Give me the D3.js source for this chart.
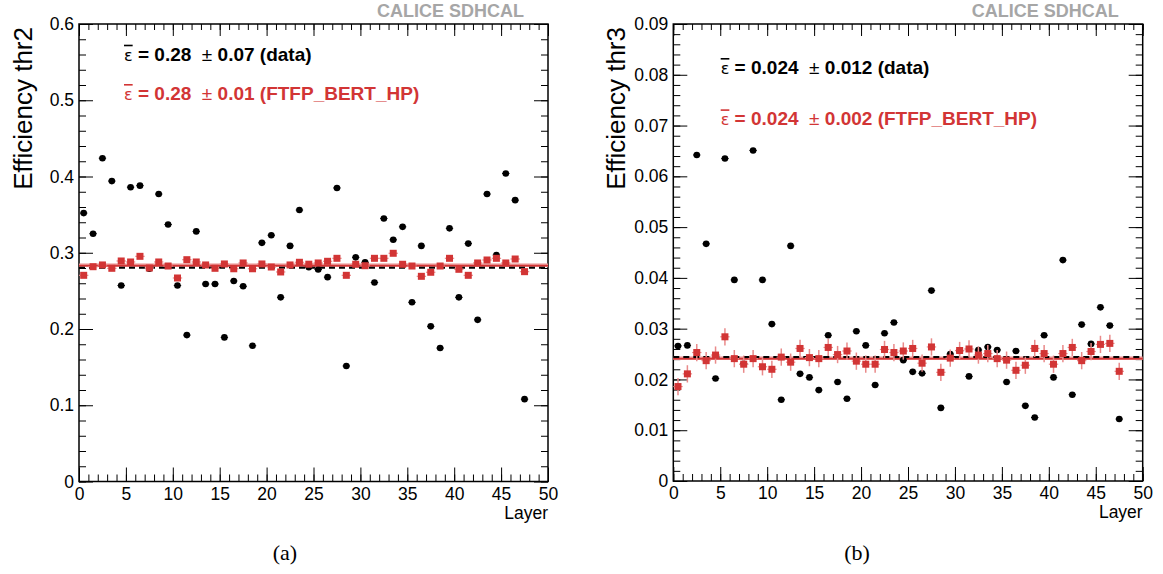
<!DOCTYPE html>
<html>
<head>
<meta charset="utf-8">
<script src="https://cdn.jsdelivr.net/npm/d3@7"></script>
<style>
  body { margin: 0; background: #fff; }
  svg text { font-family: "Liberation Sans", Arial, Helvetica, sans-serif; }
</style>
</head>
<body>
<svg id="chart" width="1163" height="574"></svg>
<script>
// layer index (bin low edge); points sit at the bin centre
const layers = [0,1,2,3,4,5,6,7,8,9,10,11,12,13,14,15,16,17,18,19,20,21,22,23,
  24,25,26,27,28,29,30,31,32,33,34,35,36,37,38,39,40,41,42,43,44,45,46,47];
const xTicks = [0,5,10,15,20,25,30,35,40,45,50];

// (a) threshold 2
const thr2Data = [0.352,0.325,0.424,0.394,0.257,0.386,0.388,0.279,0.377,0.337,
  0.257,0.192,0.328,0.259,0.259,0.189,0.263,0.256,0.178,0.313,
  0.323,0.2415,0.309,0.356,0.281,0.278,0.268,0.385,0.1515,0.294,
  0.2875,0.261,0.345,0.317,0.334,0.235,0.309,0.2035,0.175,0.332,
  0.2415,0.312,0.212,0.377,0.297,0.404,0.369,0.108];
const thr2MC = [0.2704,0.2817,0.284,0.2796,0.2892,0.2879,0.2953,0.280,0.2879,0.2826,
  0.2669,0.2909,0.2879,0.284,0.2796,0.2853,0.279,0.2866,0.279,0.2853,
  0.2813,0.2748,0.284,0.2875,0.285,0.2866,0.2888,0.2927,0.2704,0.2849,
  0.283,0.2927,0.2927,0.2993,0.2849,0.2826,0.2691,0.2744,0.2826,0.2927,
  0.2783,0.2704,0.2866,0.2905,0.2927,0.2866,0.2918,0.2752];
const thr2Err = 0.001;
const thr2Means = { data: 0.2804, mc: 0.2835 };
const thr2Ticks = [0,0.1,0.2,0.3,0.4,0.5,0.6];

// (b) threshold 3
const thr3Data = [0.0266,0.0267,0.0642,0.0467,0.0202,0.0635,0.0396,0.0231,0.0651,0.0396,
  0.0309,0.0160,0.0463,0.0211,0.0204,0.0179,0.0287,0.0195,0.0162,0.0295,
  0.0267,0.0189,0.0291,0.0312,0.0238,0.0215,0.0212,0.0375,0.0144,0.0250,
  0.0256,0.0206,0.0258,0.0264,0.0258,0.0195,0.0256,0.0148,0.0125,0.0287,
  0.0204,0.0435,0.0170,0.0308,0.0270,0.0342,0.0306,0.0122];
const thr3MC = [0.0186,0.0211,0.0253,0.0237,0.0248,0.0284,0.0241,0.0230,0.0241,0.0225,
  0.0220,0.0244,0.0234,0.0261,0.0243,0.0241,0.0263,0.0249,0.0256,0.0236,
  0.0230,0.0230,0.0259,0.0253,0.0256,0.0261,0.0232,0.0264,0.0214,0.0242,
  0.0257,0.0260,0.0248,0.0251,0.0241,0.0238,0.0218,0.0228,0.0261,0.0251,
  0.0230,0.0251,0.0263,0.0237,0.0255,0.0269,0.0271,0.0216];
const thr3Err = 0.0017;
const thr3Means = { data: 0.0244, mc: 0.02415 };
const thr3Ticks = [0,0.01,0.02,0.03,0.04,0.05,0.06,0.07,0.08,0.09];

const RED = '#d23535';
const RED_LIGHT = '#e98a8a';

const svg = d3.select('#chart');

function drawPanel(p) {
  const x = d3.scaleLinear().domain([0, 50]).range(p.xRange);
  const y = d3.scaleLinear().domain(p.yDomain).range(p.yRange);
  const [x0, x1] = p.xRange;
  const [yb, yt] = p.yRange;
  const g = svg.append('g');

  // frame
  g.append('rect')
    .attr('x', x0).attr('y', yt)
    .attr('width', x1 - x0).attr('height', yb - yt)
    .attr('fill', 'none').attr('stroke', '#000').attr('stroke-width', 1.5);

  // inward ticks on all four sides
  const tickAxis = (axis, tx, ty, values, size) => {
    const a = g.append('g')
      .attr('transform', `translate(${tx},${ty})`)
      .call(axis.tickValues(values).tickSize(size).tickFormat(''));
    a.select('.domain').remove();
    a.selectAll('line').attr('stroke', '#000').attr('stroke-width', 1);
  };
  const xMinor = x.ticks(50), yMinor = y.ticks(p.minorCount);
  tickAxis(d3.axisTop(x), 0, yb, xMinor, 7);
  tickAxis(d3.axisTop(x), 0, yb, xTicks, 14);
  tickAxis(d3.axisBottom(x), 0, yt, xMinor, 6);
  tickAxis(d3.axisBottom(x), 0, yt, xTicks, 12);
  tickAxis(d3.axisRight(y), x0, 0, yMinor, 7);
  tickAxis(d3.axisRight(y), x0, 0, p.yTicks, 14);
  tickAxis(d3.axisLeft(y), x1, 0, yMinor, 7);
  tickAxis(d3.axisLeft(y), x1, 0, p.yTicks, 14);

  // labels
  const xl = g.append('g').attr('transform', `translate(0,${yb})`)
    .call(d3.axisBottom(x).tickValues(xTicks).tickSize(0).tickPadding(6).tickFormat(d3.format('d')));
  xl.select('.domain').remove();
  xl.selectAll('text').attr('font-size', 17.5).attr('fill', '#000')
    .style('font-family', '"Liberation Sans", Arial, sans-serif');
  const yl = g.append('g').attr('transform', `translate(${x0},0)`)
    .call(d3.axisLeft(y).tickValues(p.yTicks).tickSize(0).tickPadding(5).tickFormat(p.fmt));
  yl.select('.domain').remove();
  yl.selectAll('text').attr('font-size', 17.5).attr('fill', '#000')
    .style('font-family', '"Liberation Sans", Arial, sans-serif');

  g.append('text')
    .attr('x', x1).attr('y', yb + 37)
    .attr('text-anchor', 'end').attr('font-size', 17.5)
    .text('Layer');

  g.append('text')
    .attr('transform', `translate(${p.titleX},${yt + 3}) rotate(-90)`)
    .attr('text-anchor', 'end').attr('font-size', 26)
    .text(p.title);

  g.append('text')
    .attr('x', p.calX).attr('y', 17)
    .attr('text-anchor', 'end').attr('font-size', 18).attr('font-weight', 'bold')
    .attr('fill', '#a6a6a6')
    .text('CALICE SDHCAL');

  // mean lines
  g.append('line')
    .attr('x1', x(0)).attr('x2', x(50))
    .attr('y1', y(p.means.mc)).attr('y2', y(p.means.mc))
    .attr('stroke', RED_LIGHT).attr('stroke-width', 3.5);
  g.append('line')
    .attr('x1', x(0)).attr('x2', x(50))
    .attr('y1', y(p.means.mc) + 0.5).attr('y2', y(p.means.mc) + 0.5)
    .attr('stroke', RED).attr('stroke-width', 1.5);
  g.append('line')
    .attr('x1', x(0)).attr('x2', x(50))
    .attr('y1', y(p.means.data)).attr('y2', y(p.means.data))
    .attr('stroke', '#000').attr('stroke-width', 2)
    .attr('stroke-dasharray', '6,4');

  // data points (black)
  const dp = g.append('g').selectAll('g').data(layers).join('g');
  dp.append('line')
    .attr('x1', d => x(d) + 1).attr('x2', d => x(d + 1) - 1)
    .attr('y1', d => y(p.data[d])).attr('y2', d => y(p.data[d]))
    .attr('stroke', '#000').attr('stroke-width', 1);
  dp.append('circle')
    .attr('cx', d => x(d + 0.5)).attr('cy', d => y(p.data[d]))
    .attr('r', 3.3).attr('fill', '#000');

  // MC points (red squares with error bars)
  const mp = g.append('g').selectAll('g').data(layers).join('g');
  mp.append('line')
    .attr('x1', d => x(d)).attr('x2', d => x(d + 1))
    .attr('y1', d => y(p.mc[d])).attr('y2', d => y(p.mc[d]))
    .attr('stroke', RED_LIGHT).attr('stroke-width', 1.2);
  mp.append('line')
    .attr('x1', d => x(d + 0.5)).attr('x2', d => x(d + 0.5))
    .attr('y1', d => y(p.mc[d] - p.err)).attr('y2', d => y(p.mc[d] + p.err))
    .attr('stroke', RED_LIGHT).attr('stroke-width', 1.5);
  mp.append('rect')
    .attr('x', d => x(d + 0.5) - 3.5).attr('y', d => y(p.mc[d]) - 3.5)
    .attr('width', 7).attr('height', 7)
    .attr('fill', RED);

  // mean annotations: upright epsilon with a bar, bold numbers
  const ann = (txt, yy, color) => {
    const t = g.append('text')
      .attr('x', p.annX).attr('y', yy)
      .attr('font-size', 19).attr('fill', color);
    t.append('tspan')
      .style('font-family', '"DejaVu Sans", sans-serif')
      .style('text-decoration', 'overline')
      .attr('font-size', 16)
      .text('\u03B5');
    t.append('tspan').attr('font-weight', 'bold').text(' = ' + txt[0] + '\u00A0 ');
    t.append('tspan').text('\u00B1');
    t.append('tspan').attr('font-weight', 'bold').text(' ' + txt[1] + ' ' + txt[2]);
  };
  ann(p.annData, p.annY[0], '#000');
  ann(p.annMC, p.annY[1], RED);

  // caption
  svg.append('text')
    .attr('x', p.capX).attr('y', 560)
    .attr('text-anchor', 'middle').attr('font-size', 22)
    .style('font-family', '"Liberation Serif", "Times New Roman", serif')
    .text(p.caption);
}

drawPanel({
  xRange: [79, 548], yRange: [481.5, 24], yDomain: [0, 0.6],
  yTicks: thr2Ticks, minorCount: 30,
  fmt: d => d === 0 ? '0' : d3.format('.1f')(d),
  data: thr2Data, mc: thr2MC, err: thr2Err, means: thr2Means,
  title: 'Efficiency thr2', titleX: 32, calX: 524,
  annX: 124, annY: [60.7, 100],
  annData: ['0.28', '0.07', '(data)'],
  annMC: ['0.28', '0.01', '(FTFP_BERT_HP)'],
  caption: '(a)', capX: 285
});

drawPanel({
  xRange: [673.3, 1142.7], yRange: [481, 24], yDomain: [0, 0.09],
  yTicks: thr3Ticks, minorCount: 45,
  fmt: d => d === 0 ? '0' : d3.format('.2f')(d),
  data: thr3Data, mc: thr3MC, err: thr3Err, means: thr3Means,
  title: 'Efficiency thr3', titleX: 625, calX: 1118.7,
  annX: 720.7, annY: [74, 125.3],
  annData: ['0.024', '0.012', '(data)'],
  annMC: ['0.024', '0.002', '(FTFP_BERT_HP)'],
  caption: '(b)', capX: 857
});
</script>
</body>
</html>
